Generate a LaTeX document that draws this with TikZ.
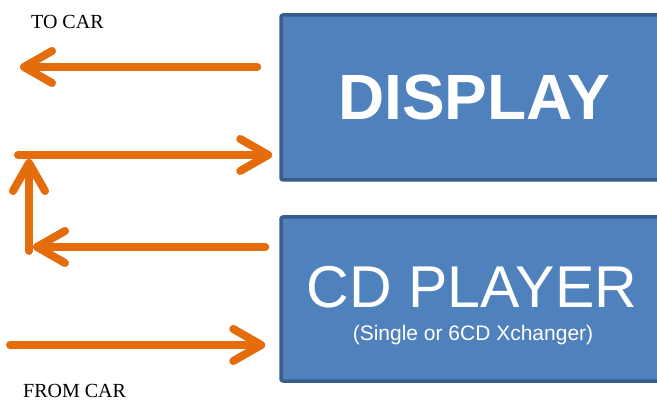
\documentclass[tikz,border=0pt]{standalone}
\usepackage{fontspec}
\setmainfont{Liberation Serif}
\newfontfamily\boxfont{Liberation Sans}
\usetikzlibrary{arrows.meta}
\definecolor{flowor}{HTML}{E46C0A}
\definecolor{unitfill}{HTML}{4F81BD}
\definecolor{unitedge}{HTML}{385D8A}
\tikzset{
  unit/.style={draw=unitedge,fill=unitfill,line width=3.5pt,rounded corners=2pt,
    minimum width=386pt,inner sep=0pt,text=white},
  flow/.style={draw=flowor,line width=8pt,
    -{Straight Barb[length=28pt,width=32pt,round]}},
  carlabel/.style={anchor=west,inner sep=0pt,font=\fontsize{20}{24}\selectfont}
}
\begin{document}
\begin{tikzpicture}[x=1pt,y=-1pt,line join=round,line cap=round]
\useasboundingbox (0,0) rectangle (657,401);
\clip (0,0) rectangle (657,401);
% units
\node[unit,minimum height=165pt,font=\boxfont\bfseries\fontsize{64}{64}\selectfont] (disp) at (474,97.5) {DISPLAY};
\node[unit,minimum height=164pt] (cd) at (474,299) {};
\node[text=white,inner sep=0pt,font=\boxfont\fontsize{59}{59}\selectfont] (cdname) at (472,287) {CD PLAYER};
\node[text=white,inner sep=0pt,font=\boxfont\fontsize{21}{25}\selectfont] (cdnote) at (473,335) {(Single or 6CD Xchanger)};
% car side
\node[carlabel] (tolab) at (31,21.5) {TO CAR};
\node[carlabel] (fromlab) at (23,390.5) {FROM CAR};
\coordinate (tocar) at (20,67);
\coordinate (split) at (18,155);
\coordinate (turn) at (33,247);
\coordinate (up0) at (29,251);
\coordinate (up1) at (29,159);
\coordinate (fromcar) at (10,345);
% connections
\draw[flow,shorten <=22pt] (disp.west |- tocar) -- (tocar);
\draw[flow,shorten >=7pt] (split) -- (disp.west |- split);
\draw[flow,shorten <=14pt] (cd.west |- turn) -- (turn);
\draw[flow] (up0) -- (up1);
\draw[flow,shorten >=14pt] (fromcar) -- (cd.west |- fromcar);
\end{tikzpicture}
\end{document}
